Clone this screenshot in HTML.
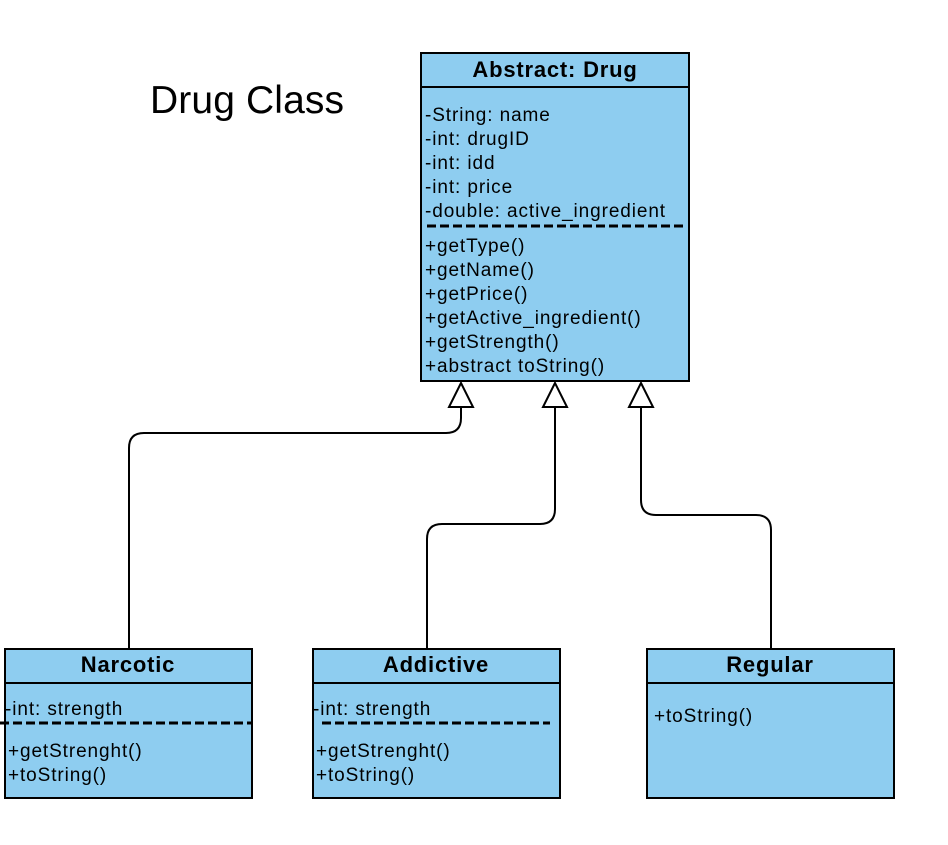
<!DOCTYPE html>
<html><head><meta charset="utf-8"><style>html,body{margin:0;padding:0;background:#fff}</style></head>
<body>
<svg width="948" height="840" viewBox="0 0 948 840" xmlns="http://www.w3.org/2000/svg" font-family="Liberation Sans, sans-serif">
<rect width="948" height="840" fill="#fff"/>
<text x="150" y="113" font-size="39" textLength="194" fill="#000">Drug Class</text>
<g fill="#8ECDF0" stroke="#000" stroke-width="2">
<rect x="421" y="53" width="268" height="328"/>
<rect x="5" y="649" width="247" height="149"/>
<rect x="313" y="649" width="247" height="149"/>
<rect x="647" y="649" width="247" height="149"/>
</g>
<g stroke="#000" stroke-width="2">
<line x1="421" y1="87" x2="689" y2="87"/>
<line x1="5" y1="683" x2="252" y2="683"/>
<line x1="313" y1="683" x2="560" y2="683"/>
<line x1="647" y1="683" x2="894" y2="683"/>
</g>
<g stroke="#000" stroke-width="3" stroke-dasharray="9,4">
<line x1="427" y1="226" x2="683" y2="226"/>
<line x1="0" y1="723" x2="253" y2="723"/>
<line x1="322" y1="723" x2="550" y2="723"/>
</g>
<g font-weight="bold" font-size="22" letter-spacing="0.8" text-anchor="middle">
<text x="555" y="77">Abstract: Drug</text>
<text x="128" y="672">Narcotic</text>
<text x="436" y="672">Addictive</text>
<text x="770" y="672">Regular</text>
</g>
<g font-size="19" letter-spacing="0.9">
<text x="425" y="121">-String: name</text>
<text x="425" y="145">-int: drugID</text>
<text x="425" y="169">-int: idd</text>
<text x="425" y="193">-int: price</text>
<text x="425" y="217">-double: active_ingredient</text>
<text x="425" y="252">+getType()</text>
<text x="425" y="276">+getName()</text>
<text x="425" y="300">+getPrice()</text>
<text x="425" y="324">+getActive_ingredient()</text>
<text x="425" y="348">+getStrength()</text>
<text x="425" y="372">+abstract toString()</text>
<text x="5" y="715">-int: strength</text>
<text x="8" y="757">+getStrenght()</text>
<text x="8" y="781">+toString()</text>
<text x="313" y="715">-int: strength</text>
<text x="316" y="757">+getStrenght()</text>
<text x="316" y="781">+toString()</text>
<text x="654" y="722">+toString()</text>
</g>
<g fill="none" stroke="#000" stroke-width="2">
<path d="M129 649 V448 Q129 433 144 433 H446 Q461 433 461 418 V407"/>
<path d="M427 649 V539 Q427 524 442 524 H540 Q555 524 555 509 V407"/>
<path d="M771 649 V530 Q771 515 756 515 H656 Q641 515 641 500 V407"/>
</g>
<g fill="#fff" stroke="#000" stroke-width="2">
<polygon points="461,383 449,407 473,407"/>
<polygon points="555,383 543,407 567,407"/>
<polygon points="641,383 629,407 653,407"/>
</g>
</svg>
</body></html>
